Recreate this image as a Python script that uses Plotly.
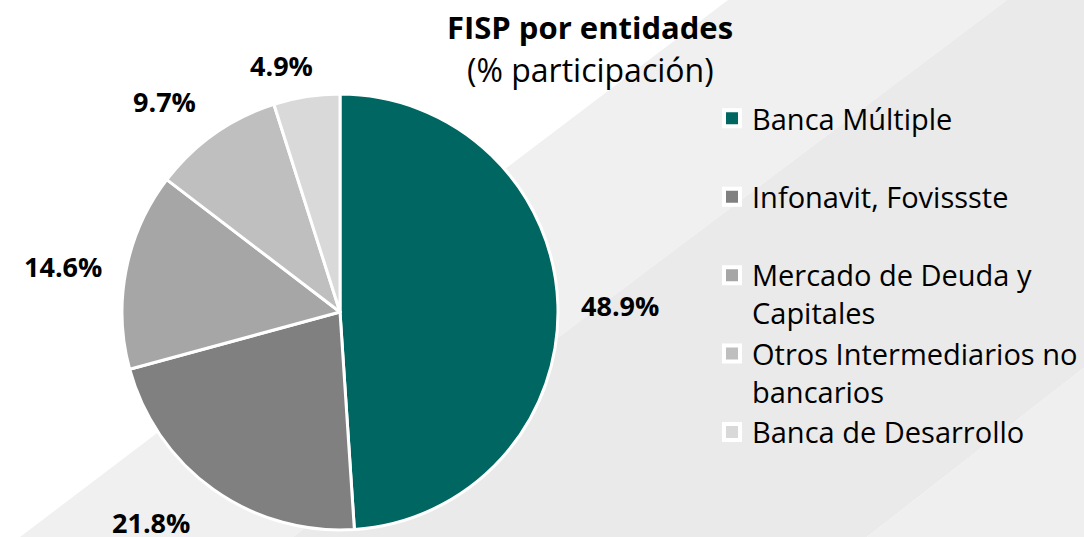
import math
import plotly.graph_objects as go

# ---- data ----
categories = ["Banca Múltiple", "Infonavit, Fovissste", "Mercado de Deuda y Capitales",
              "Otros Intermediarios no bancarios", "Banca de Desarrollo"]
legend_labels = ["Banca Múltiple<br> ", "Infonavit, Fovissste<br> ", "Mercado de Deuda y<br>Capitales",
                 "Otros Intermediarios no<br>bancarios", "Banca de Desarrollo"]
values = [48.9, 21.8, 14.6, 9.7, 4.9]
colors = ["#006661", "#808080", "#A6A6A6", "#BFBFBF", "#D9D9D9"]

# label placement style (radius in px from centre, angle nudge in degrees)
label_radius = [280, 283, 281, 274, 253]
label_dtheta = [0.6, 6.3, -1.8, -4.7, -4.5]

W, H = 1084, 537
FONT = "Open Sans, sans-serif"

# pie geometry (pixels)
cx, cy, R = 340, 312, 218
dom_x = [(cx - R) / W, (cx + R) / W]
dom_y = [(H - cy - R) / H, (H - cy + R) / H]

fig = go.Figure()
fig.add_trace(go.Pie(
    labels=legend_labels, values=values, sort=False, direction="clockwise", rotation=0,
    marker=dict(colors=colors, line=dict(color="white", width=3)),
    textinfo="none", hoverinfo="label+percent", domain=dict(x=dom_x, y=dom_y),
    showlegend=False,
))

# legend entries (square swatches matching the slices)
for lab, col in zip(legend_labels, colors):
    fig.add_trace(go.Scatter(
        x=[None], y=[None], mode="markers", name=lab, hoverinfo="skip",
        marker=dict(symbol="square", size=16, color=col, line=dict(color="white", width=4)),
    ))

# data labels placed around mid-angle of each slice
total = sum(values)
cum = 0.0
annotations = []
for v, lr, dt in zip(values, label_radius, label_dtheta):
    mid = (cum + v / 2) / total * 2 * math.pi + math.radians(dt)
    cum += v
    px = cx + lr * math.sin(mid)
    py = cy - lr * math.cos(mid)
    annotations.append(dict(x=px / W, y=1 - py / H, xref="paper", yref="paper",
                            text=f"<b>{v:.1f}%</b>", showarrow=False,
                            font=dict(family=FONT, size=27, color="black"),
                            xanchor="center", yanchor="middle"))

annotations.append(dict(x=590 / W, y=1 - 27 / H, xref="paper", yref="paper",
                        text="<b>FISP por entidades</b>", showarrow=False,
                        font=dict(family=FONT, size=31, color="black"),
                        xanchor="center", yanchor="middle"))
annotations.append(dict(x=590 / W, y=1 - 70 / H, xref="paper", yref="paper",
                        text="(% participación)", showarrow=False,
                        font=dict(family=FONT, size=32, color="black"),
                        xanchor="center", yanchor="middle"))

def band(x0top, x0bot, x1top, x1bot, color):
    path = f"M {x0top/W},1 L {x1top/W},1 L {x1bot/W},0 L {x0bot/W},0 Z"
    return dict(type="path", path=path, xref="paper", yref="paper",
                fillcolor=color, line=dict(width=0), layer="below")

shapes = [
    band(728, 20, 1007, 293, "#F0F0F0"),
    band(1007, 293, 1555, 867, "#EAEAEA"),
    band(1555, 867, 2500, 2500, "#EFEFEF"),
]

fig.update_layout(
    width=W, height=H, margin=dict(l=0, r=0, t=0, b=0),
    paper_bgcolor="white", plot_bgcolor="rgba(0,0,0,0)",
    xaxis=dict(visible=False), yaxis=dict(visible=False),
    showlegend=True,
    legend=dict(x=712 / W, y=1 - 93 / H, xanchor="left", yanchor="top",
                font=dict(family=FONT, size=29, color="black"), valign="top",
                bgcolor="rgba(0,0,0,0)", itemclick=False, itemdoubleclick=False),
    annotations=annotations, shapes=shapes,
)

fig.write_html("out.html")
